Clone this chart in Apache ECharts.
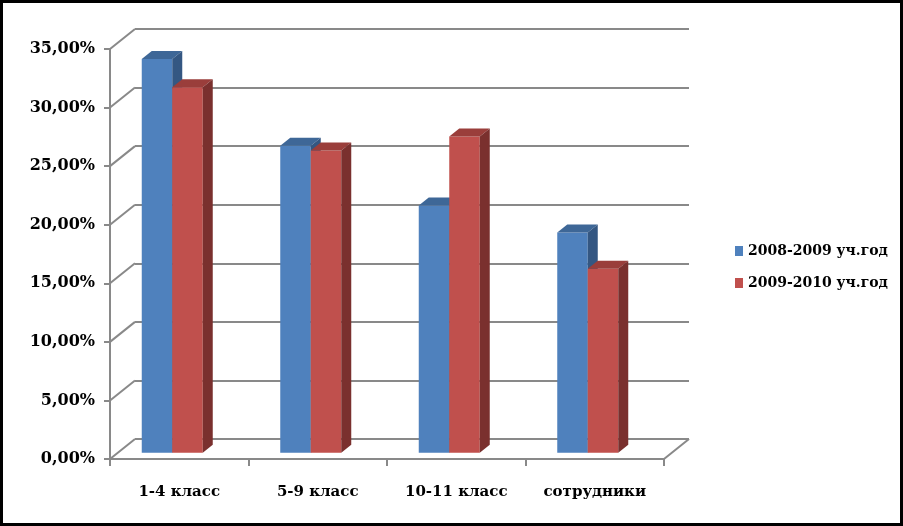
<!DOCTYPE html>
<html>
<head>
<meta charset="utf-8">
<script src="https://cdn.jsdelivr.net/npm/echarts@6/dist/echarts.min.js"></script>
<style>
html,body{margin:0;padding:0;background:#fff;}
#c{width:903px;height:526px;}
</style>
</head>
<body>
<div id="c"></div>
<script>
const categories = ['1-4 класс', '5-9 класс', '10-11 класс', 'сотрудники'];
const seriesNames = ['2008-2009 уч.год', '2009-2010 уч.год'];
const values2008 = [33.6, 26.2, 21.1, 18.8];
const values2009 = [31.2, 25.8, 27.0, 15.7];
const yTicks = [0, 5, 10, 15, 20, 25, 30, 35];

const FONT = "'DejaVu Serif', 'Liberation Serif', serif";
const GRID_COLOR = '#898989';
const DX = 25, DY = -20;          // back wall offset
const BW = 30.5;                  // bar face width
const BDX = 10, BDY = -8;         // bar depth
const LIFT = -6.3;                // bar face depth lift
const GROUP_SHIFT = -7;

const palettes = [
  {front: '#4F81BD', top: '#3E6797', side: '#345782'},
  {front: '#C0504D', top: '#9A3E3B', side: '#7A302E'}
];

function barRender(seriesIdx) {
  return function (params, api) {
    const cat = api.value(0), v = api.value(1);
    const pt = api.coord([cat, v]);
    const pb = api.coord([cat, 0]);
    const center = pt[0] + GROUP_SHIFT;
    const x = seriesIdx === 0 ? center - BW : center;
    const yt = pt[1] + LIFT, yb = pb[1] + LIFT;
    const p = palettes[seriesIdx];
    return {
      type: 'group',
      children: [
        {type: 'rect', shape: {x: x, y: yt, width: BW, height: yb - yt}, style: {fill: p.front}},
        {type: 'polygon', shape: {points: [[x, yt], [x + BW, yt], [x + BW + BDX, yt + BDY], [x + BDX, yt + BDY]]}, style: {fill: p.top}},
        {type: 'polygon', shape: {points: [[x + BW, yt], [x + BW + BDX, yt + BDY], [x + BW + BDX, yb + BDY], [x + BW, yb]]}, style: {fill: p.side}}
      ]
    };
  };
}

function diagRender(params, api) {
  const v = api.value(0);
  const cs = params.coordSys;
  const y = api.coord([0, v])[1];
  const children = [
    {type: 'line', shape: {x1: cs.x, y1: y, x2: cs.x + DX, y2: y + DY}, style: {stroke: GRID_COLOR, lineWidth: 2}}
  ];
  if (v === 0) {
    children.push({type: 'line', shape: {x1: cs.x + cs.width, y1: y, x2: cs.x + cs.width + DX, y2: y + DY}, style: {stroke: GRID_COLOR, lineWidth: 2}});
  }
  return {type: 'group', children: children};
}

const chart = echarts.init(document.getElementById('c'));
chart.setOption({
  animation: false,
  backgroundColor: '#fff',
  grid: [
    {left: 110, right: 239, top: 49, bottom: 67},
    {left: 135, right: 214, top: 29, bottom: 87}
  ],
  xAxis: [
    {
      type: 'category', gridIndex: 0, data: categories,
      axisLine: {lineStyle: {color: GRID_COLOR, width: 2}},
      axisTick: {show: true, length: 7, alignWithLabel: false, lineStyle: {color: GRID_COLOR, width: 2}},
      axisLabel: {margin: 26, color: '#000', fontFamily: FONT, fontWeight: 'bold', fontSize: 15}
    },
    {type: 'category', gridIndex: 1, data: categories, show: false}
  ],
  yAxis: [
    {
      type: 'value', gridIndex: 0, min: 0, max: 35, interval: 5,
      axisLine: {show: true, lineStyle: {color: GRID_COLOR, width: 2}},
      axisTick: {show: true, length: 6, lineStyle: {color: GRID_COLOR, width: 2}},
      splitLine: {show: false},
      axisLabel: {
        margin: 15, color: '#000', fontFamily: FONT, fontWeight: 'bold', fontSize: 16,
        formatter: v => v.toFixed(2).replace('.', ',') + '%'
      }
    },
    {
      type: 'value', gridIndex: 1, min: 0, max: 35, interval: 5,
      axisLine: {show: false}, axisTick: {show: false}, axisLabel: {show: false},
      splitLine: {show: true, lineStyle: {color: GRID_COLOR, width: 2}}
    }
  ],
  legend: {
    orient: 'vertical', left: 730, top: 239, itemGap: 18,
    itemWidth: 8, itemHeight: 10, icon: 'rect',
    data: seriesNames,
    textStyle: {color: '#000', fontFamily: FONT, fontWeight: 'bold', fontSize: 14}
  },
  graphic: [
    {type: 'rect', shape: {x: 1.5, y: 1.5, width: 900, height: 523}, style: {fill: 'none', stroke: '#000', lineWidth: 3}, z: 100}
  ],
  series: [
    {
      type: 'custom', name: '__diag', xAxisIndex: 0, yAxisIndex: 0,
      data: yTicks.map(v => [v]), encode: {y: 0},
      renderItem: diagRender, silent: true, z: 1
    },
    {
      type: 'custom', name: seriesNames[0], xAxisIndex: 0, yAxisIndex: 0,
      itemStyle: {color: palettes[0].front},
      data: values2008.map((v, i) => [i, v]), encode: {x: 0, y: 1},
      renderItem: barRender(0), z: 2
    },
    {
      type: 'custom', name: seriesNames[1], xAxisIndex: 0, yAxisIndex: 0,
      itemStyle: {color: palettes[1].front},
      data: values2009.map((v, i) => [i, v]), encode: {x: 0, y: 1},
      renderItem: barRender(1), z: 3
    }
  ]
});
</script>
</body>
</html>
